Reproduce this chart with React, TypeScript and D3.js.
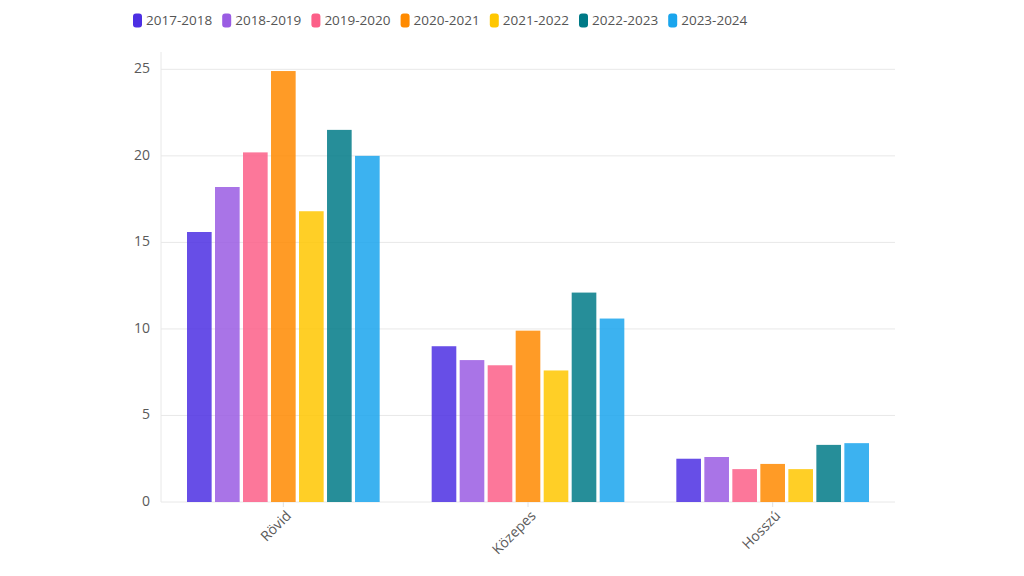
import { useEffect, useRef } from "react";
import * as d3 from "d3";

const categories = ["Rövid", "Közepes", "Hosszú"];
const seasons = ["2017-2018", "2018-2019", "2019-2020", "2020-2021", "2021-2022", "2022-2023", "2023-2024"];
// values per season, in category order
const values2017 = [15.6, 9.0, 2.5];
const values2018 = [18.2, 8.2, 2.6];
const values2019 = [20.2, 7.9, 1.9];
const values2020 = [24.9, 9.9, 2.2];
const values2021 = [16.8, 7.6, 1.9];
const values2022 = [21.5, 12.1, 3.3];
const values2023 = [20.0, 10.6, 3.4];
const yTicks = [0, 5, 10, 15, 20, 25];

const colors = ["#4c2fe3", "#9a5ce3", "#fc5f88", "#ff8a00", "#ffc700", "#007a87", "#1aa5ed"];
const seriesValues = [values2017, values2018, values2019, values2020, values2021, values2022, values2023];

const W = 1024;
const H = 576;
const FONT = "'Open Sans', sans-serif";

export default function App() {
  const ref = useRef<SVGSVGElement | null>(null);

  useEffect(() => {
    const svg = d3.select(ref.current!);
    svg.selectAll("*").remove();

    const left = 161;
    const right = 895;
    const top = 52;
    const bottom = 502;

    const x0 = d3.scaleBand<string>().domain(categories).range([left, right]).padding(0);
    const x1 = d3
      .scaleBand<string>()
      .domain(seasons)
      .range([26, x0.bandwidth() - 26])
      .paddingInner(0.12)
      .paddingOuter(0);
    const y = d3.scaleLinear().domain([0, 26]).range([bottom, top]);

    // grid
    svg
      .append("g")
      .selectAll("line")
      .data(yTicks)
      .join("line")
      .attr("x1", left)
      .attr("x2", right)
      .attr("y1", (d) => y(d))
      .attr("y2", (d) => y(d))
      .attr("stroke", "#e8e8e8")
      .attr("stroke-width", 1);

    svg
      .append("line")
      .attr("x1", left)
      .attr("x2", left)
      .attr("y1", top)
      .attr("y2", bottom)
      .attr("stroke", "#e8e8e8");

    svg
      .append("g")
      .selectAll("text")
      .data(yTicks)
      .join("text")
      .attr("x", 150)
      .attr("y", (d) => y(d))
      .attr("text-anchor", "end")
      .attr("dominant-baseline", "middle")
      .style("font", `14px ${FONT}`)
      .style("fill", "#5a5a5a")
      .text((d) => d);

    // bars
    const groups = svg
      .append("g")
      .selectAll("g")
      .data(seasons)
      .join("g")
      .attr("fill", (_, i) => colors[i])
      .attr("fill-opacity", 0.85);

    groups
      .selectAll("rect")
      .data((s, i) => categories.map((c, j) => ({ c, s, v: seriesValues[i][j] })))
      .join("rect")
      .attr("x", (d) => x0(d.c)! + x1(d.s)!)
      .attr("width", x1.bandwidth())
      .attr("y", (d) => y(d.v))
      .attr("height", (d) => y(0) - y(d.v));

    // x ticks and labels
    const xl = svg.append("g");
    categories.forEach((c) => {
      const cx = x0(c)! + x0.bandwidth() / 2;
      xl.append("line")
        .attr("x1", cx)
        .attr("x2", cx)
        .attr("y1", bottom)
        .attr("y2", bottom + 5)
        .attr("stroke", "#e0e0e0");
      xl.append("text")
        .attr("transform", `translate(${cx + 6},${bottom + 12}) rotate(-45)`)
        .attr("text-anchor", "end")
        .attr("dominant-baseline", "middle")
        .style("font", `14px ${FONT}`)
        .style("fill", "#5a5a5a")
        .text(c);
    });

    // legend
    const lg = svg.append("g").attr("transform", "translate(133,20.5)");
    const items = lg
      .selectAll("g")
      .data(seasons)
      .join("g")
      .attr("transform", (_, i) => `translate(${i * 89.2},0)`);
    items
      .append("rect")
      .attr("x", 0)
      .attr("y", -7)
      .attr("width", 9)
      .attr("height", 14)
      .attr("rx", 3)
      .attr("fill", (_, i) => colors[i]);
    items
      .append("text")
      .attr("x", 13)
      .attr("y", 0.5)
      .attr("dominant-baseline", "middle")
      .style("font", `13.5px ${FONT}`)
      .style("fill", "#555")
      .text((d) => d);
  }, []);

  return (
    <div style={{ position: "absolute", left: 0, top: 0, width: W, height: H, background: "#fff" }}>
      <svg ref={ref} width={W} height={H} />
    </div>
  );
}
